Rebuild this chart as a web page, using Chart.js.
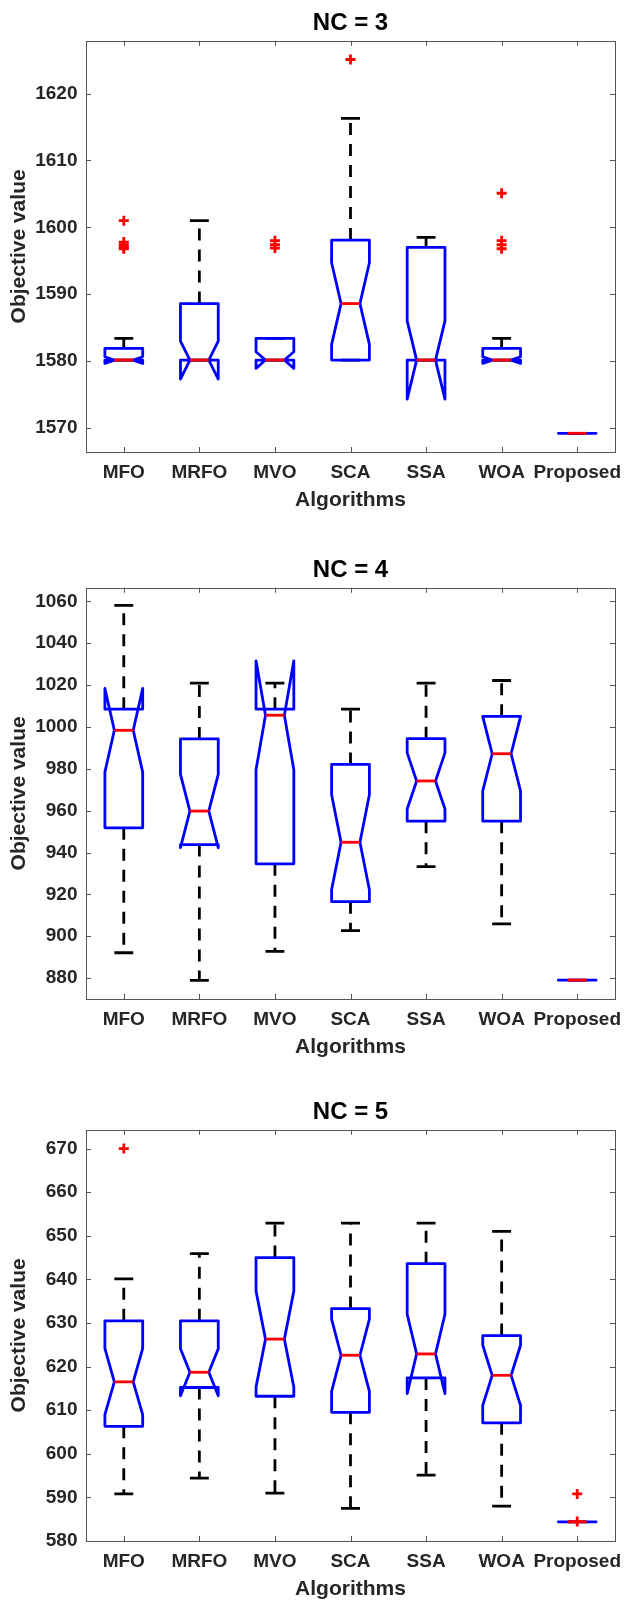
<!DOCTYPE html>
<html>
<head>
<meta charset="utf-8">
<script src="https://cdn.jsdelivr.net/npm/chart.js@4.4.0/dist/chart.umd.min.js"></script>
<style>
    body { margin: 0; background: #fff; }
    .panel { position: absolute; left: 0; width: 624px; height: 511px; }
</style>
</head>
<body>
<div class="panel" style="top: 0px;"><canvas id="nc3"></canvas></div>
<div class="panel" style="top: 547px;"><canvas id="nc4"></canvas></div>
<div class="panel" style="top: 1089px;"><canvas id="nc5"></canvas></div>
<script>
const algorithms = ['MFO', 'MRFO', 'MVO', 'SCA', 'SSA', 'WOA', 'Proposed'];

// NC = 3
const nc3Q1 = [1580.15, 1580.15, 1580.15, 1580.15, 1580.15, 1580.15, 1569.2];
const nc3Median = [1580.15, 1580.15, 1580.15, 1588.6, 1580.15, 1580.15, 1569.2];
const nc3Q3 = [1581.9, 1588.6, 1583.4, 1598.1, 1597.0, 1581.9, 1569.2];
const nc3NotchLo = [1579.65, 1577.3, 1578.9, 1582.5, 1574.3, 1579.65, 1569.2];
const nc3NotchHi = [1580.65, 1583.0, 1581.4, 1594.7, 1586.0, 1580.65, 1569.2];
const nc3WhiskerLo = [1580.15, 1580.15, 1580.15, 1580.15, 1580.15, 1580.15, 1569.2];
const nc3WhiskerHi = [1583.4, 1601.0, 1583.4, 1616.3, 1598.5, 1583.4, 1569.2];
const nc3Outliers = [
    ['MFO', 1601.0], ['MFO', 1597.8], ['MFO', 1597.4], ['MFO', 1597.0], ['MFO', 1596.8],
    ['MVO', 1598.0], ['MVO', 1597.4], ['MVO', 1596.9],
    ['SCA', 1625.1],
    ['WOA', 1605.1], ['WOA', 1598.0], ['WOA', 1597.4], ['WOA', 1596.8]
];
const nc3Ticks = [1570, 1580, 1590, 1600, 1610, 1620];
const nc3Range = [1566.4, 1627.9];

// NC = 4
const nc4Q1 = [951.8, 943.8, 934.6, 916.5, 955.0, 955.0, 879.0];
const nc4Median = [998.4, 959.8, 1005.6, 944.9, 974.2, 987.2, 879.0];
const nc4Q3 = [1008.5, 994.3, 1008.5, 982.1, 994.4, 1005.1, 879.0];
const nc4NotchLo = [978.4, 942.3, 979.6, 922.2, 960.8, 969.5, 879.0];
const nc4NotchHi = [1018.4, 977.3, 1031.6, 967.6, 987.6, 1004.9, 879.0];
const nc4WhiskerLo = [892.1, 878.9, 892.8, 902.7, 933.3, 905.9, 879.0];
const nc4WhiskerHi = [1058.1, 1020.9, 1020.9, 1008.5, 1020.9, 1022.2, 879.0];
const nc4Outliers = [];
const nc4Ticks = [880, 900, 920, 940, 960, 980, 1000, 1020, 1040, 1060];
const nc4Range = [870.0, 1066.5];

// NC = 5
const nc5Q1 = [606.3, 615.2, 613.2, 609.5, 617.4, 607.1, 584.4];
const nc5Median = [616.5, 618.7, 626.3, 622.6, 622.9, 618.0, 584.4];
const nc5Q3 = [630.5, 630.5, 645.0, 633.3, 643.6, 627.1, 584.4];
const nc5NotchLo = [609.0, 613.3, 615.3, 614.3, 613.8, 611.1, 584.4];
const nc5NotchHi = [624.2, 624.1, 637.3, 630.9, 632.0, 624.9, 584.4];
const nc5WhiskerLo = [590.8, 594.4, 591.0, 587.5, 595.1, 588.0, 584.4];
const nc5WhiskerHi = [640.1, 645.9, 652.9, 652.9, 652.9, 651.0, 584.4];
const nc5Outliers = [['MFO', 670.0], ['Proposed', 590.8], ['Proposed', 584.5]];
const nc5Ticks = [580, 590, 600, 610, 620, 630, 640, 650, 660, 670];
const nc5Range = [580, 674.3];

Chart.defaults.font.family = '"Liberation Sans", Arial, sans-serif';
Chart.defaults.font.weight = 'bold';
Chart.defaults.color = '#262626';

// Draws MATLAB-style notched boxes, whiskers and the axes frame with inward ticks
const notchedBoxPlugin = {
    id: 'notchedBoxes',
    beforeDatasetsDraw(chart, args, opts) {
        const { ctx, chartArea: area, scales: { x, y } } = chart;
        const b = opts.boxes;
        const step = x.getPixelForValue(1) - x.getPixelForValue(0);
        const hw = step * 0.25;
        const py = v => y.getPixelForValue(v);

        ctx.save();
        // frame + ticks
        ctx.strokeStyle = '#555';
        ctx.lineWidth = 1;
        ctx.strokeRect(Math.round(area.left) + 0.5, Math.round(area.top) + 0.5,
            Math.round(area.width), Math.round(area.height));
        ctx.beginPath();
        y.ticks.forEach(t => {
            const ty = Math.round(py(t.value)) + 0.5;
            ctx.moveTo(area.left, ty); ctx.lineTo(area.left + 5, ty);
            ctx.moveTo(area.right, ty); ctx.lineTo(area.right - 5, ty);
        });
        algorithms.forEach((_, i) => {
            const tx = Math.round(x.getPixelForValue(i)) + 0.5;
            ctx.moveTo(tx, area.bottom); ctx.lineTo(tx, area.bottom - 5);
            ctx.moveTo(tx, area.top); ctx.lineTo(tx, area.top + 5);
        });
        ctx.stroke();

        ctx.lineWidth = 2.8;
        ctx.lineCap = 'butt';
        b.q1.forEach((_, i) => {
            const cx = x.getPixelForValue(i);

            // whiskers
            ctx.strokeStyle = '#000';
            ctx.setLineDash([12, 9]);
            ctx.beginPath();
            ctx.moveTo(cx, py(b.q3[i])); ctx.lineTo(cx, py(b.whiskerHi[i]));
            ctx.moveTo(cx, py(b.q1[i])); ctx.lineTo(cx, py(b.whiskerLo[i]));
            ctx.stroke();
            ctx.setLineDash([]);
            ctx.beginPath();
            ctx.moveTo(cx - hw / 2, py(b.whiskerHi[i])); ctx.lineTo(cx + hw / 2, py(b.whiskerHi[i]));
            ctx.moveTo(cx - hw / 2, py(b.whiskerLo[i])); ctx.lineTo(cx + hw / 2, py(b.whiskerLo[i]));
            ctx.stroke();

            // notched box
            ctx.strokeStyle = '#0000ff';
            ctx.lineJoin = 'round';
            ctx.beginPath();
            ctx.moveTo(cx - hw, py(b.q1[i]));
            ctx.lineTo(cx - hw, py(b.notchLo[i]));
            ctx.lineTo(cx - hw / 2, py(b.median[i]));
            ctx.lineTo(cx - hw, py(b.notchHi[i]));
            ctx.lineTo(cx - hw, py(b.q3[i]));
            ctx.lineTo(cx + hw, py(b.q3[i]));
            ctx.lineTo(cx + hw, py(b.notchHi[i]));
            ctx.lineTo(cx + hw / 2, py(b.median[i]));
            ctx.lineTo(cx + hw, py(b.notchLo[i]));
            ctx.lineTo(cx + hw, py(b.q1[i]));
            ctx.closePath();
            ctx.stroke();

            // median
            ctx.strokeStyle = '#ff0000';
            ctx.beginPath();
            ctx.moveTo(cx - hw / 2, py(b.median[i]));
            ctx.lineTo(cx + hw / 2, py(b.median[i]));
            ctx.stroke();
        });
        ctx.restore();
    }
};

function makeBoxChart(canvasId, title, boxes, outliers, tickValues, range) {
    return new Chart(document.getElementById(canvasId), {
        type: 'scatter',
        data: {
            labels: algorithms,
            datasets: [{
                label: 'Outliers',
                data: outliers.map(o => ({ x: o[0], y: o[1] })),
                pointStyle: 'cross',
                pointRadius: 5,
                pointHoverRadius: 5,
                borderColor: '#ff0000',
                backgroundColor: '#ff0000',
                borderWidth: 2.8
            }]
        },
        options: {
            responsive: true,
            maintainAspectRatio: false,
            animation: false,
            events: [],
            layout: { padding: { left: 0, right: 9, top: 0, bottom: 0 } },
            plugins: {
                legend: { display: false },
                tooltip: { enabled: false },
                title: {
                    display: true,
                    text: title,
                    fullSize: false,
                    color: '#000',
                    font: { size: 24, weight: 'bold' },
                    padding: { top: 9, bottom: 3 }
                },
                notchedBoxes: { boxes: boxes }
            },
            scales: {
                x: {
                    type: 'category',
                    labels: algorithms,
                    offset: true,
                    grid: { display: false, drawTicks: false },
                    border: { display: false },
                    ticks: { font: { size: 19, weight: 'bold' }, padding: 9, maxRotation: 0, autoSkip: false },
                    title: {
                        display: true,
                        text: 'Algorithms',
                        font: { size: 21, weight: 'bold', lineHeight: 1.0 },
                        padding: { top: 0, bottom: 0.5 }
                    },
                    afterFit: s => { s.height = 59; s.paddingLeft = 0; s.paddingRight = 0; }
                },
                y: {
                    min: range[0],
                    max: range[1],
                    grid: { display: false, drawTicks: false },
                    border: { display: false },
                    ticks: { font: { size: 19, weight: 'bold' }, padding: 8.5, callback: v => String(v) },
                    afterBuildTicks: s => { s.ticks = tickValues.map(v => ({ value: v })); },
                    title: {
                        display: true,
                        text: 'Objective value',
                        font: { size: 21, weight: 'bold' },
                        padding: { top: 7, bottom: 0 }
                    },
                    afterFit: s => { s.width = 86; s.paddingTop = 0; s.paddingBottom = 0; }
                }
            }
        },
        plugins: [notchedBoxPlugin]
    });
}

makeBoxChart('nc3', 'NC = 3', {
    q1: nc3Q1, median: nc3Median, q3: nc3Q3, notchLo: nc3NotchLo, notchHi: nc3NotchHi,
    whiskerLo: nc3WhiskerLo, whiskerHi: nc3WhiskerHi
}, nc3Outliers, nc3Ticks, nc3Range);

makeBoxChart('nc4', 'NC = 4', {
    q1: nc4Q1, median: nc4Median, q3: nc4Q3, notchLo: nc4NotchLo, notchHi: nc4NotchHi,
    whiskerLo: nc4WhiskerLo, whiskerHi: nc4WhiskerHi
}, nc4Outliers, nc4Ticks, nc4Range);

makeBoxChart('nc5', 'NC = 5', {
    q1: nc5Q1, median: nc5Median, q3: nc5Q3, notchLo: nc5NotchLo, notchHi: nc5NotchHi,
    whiskerLo: nc5WhiskerLo, whiskerHi: nc5WhiskerHi
}, nc5Outliers, nc5Ticks, nc5Range);
</script>
</body>
</html>
